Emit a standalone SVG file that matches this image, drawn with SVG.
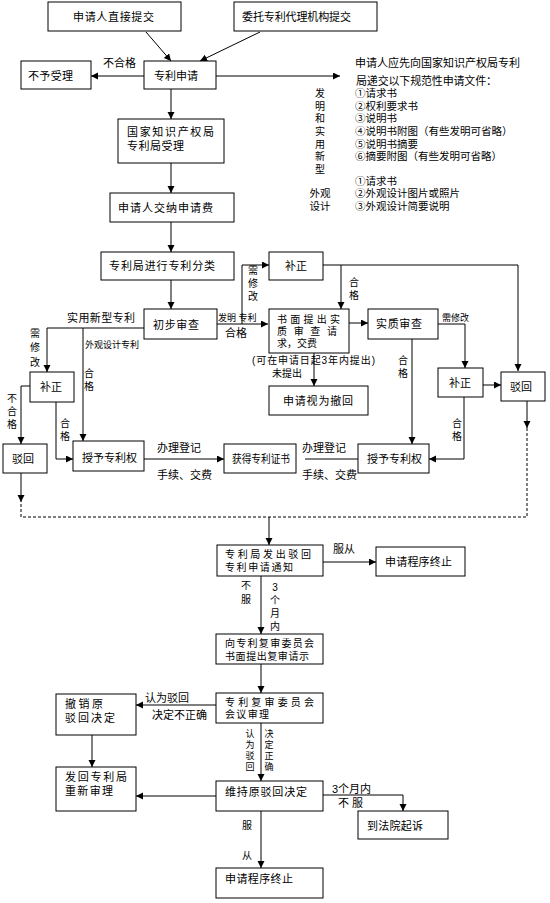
<svg xmlns="http://www.w3.org/2000/svg" width="550" height="903" viewBox="0 0 550 903">
<defs>
<marker id="ah" markerUnits="userSpaceOnUse" markerWidth="8" markerHeight="8" refX="7" refY="3.5" orient="auto"><path d="M0,0 L7,3.5 L0,7 z" fill="#000"/></marker>
<style>
rect{fill:#fff;stroke:#000;stroke-width:1}
text{font-family:"Liberation Sans","Noto Sans CJK SC",sans-serif;font-size:11px;fill:#000}
.s{font-size:9px}
.v{font-size:10px;text-anchor:middle}
.v9{font-size:9px;text-anchor:middle}
.t{font-size:10px}
.l{font-size:10.5px}
.m{text-anchor:middle}
.c line,.c polyline{fill:none;stroke:#000;stroke-width:1}
.a{marker-end:url(#ah)}
.d{stroke-dasharray:3,2}
</style>
</defs>
<rect x="0" y="0" width="550" height="903" style="stroke:none"/>
<g class="c" id="connectors">
<line class="a" x1="146" y1="32" x2="171" y2="61"/>
<line class="a" x1="260" y1="32" x2="200" y2="61"/>
<line class="a" x1="144" y1="76" x2="91" y2="76"/>
<line class="a" x1="216" y1="76" x2="340" y2="76"/>
<line class="a" x1="171" y1="89" x2="171" y2="119"/>
<line class="a" x1="171" y1="163" x2="171" y2="193"/>
<line class="a" x1="171" y1="222" x2="171" y2="252"/>
<line class="a" x1="171" y1="280" x2="171" y2="309"/>
<line class="a" x1="217" y1="324" x2="268" y2="324"/>
<polyline class="a" points="242,324 242,265 269,265"/>
<polyline class="a" points="323,265 518,265 518,371"/>
<line class="a" x1="341" y1="265" x2="341" y2="309"/>
<line class="a" x1="349" y1="323" x2="368" y2="323"/>
<polyline class="a" points="438,324 465,324 465,368"/>
<line class="a" x1="314" y1="353" x2="314" y2="386"/>
<line class="a" x1="412" y1="339" x2="412" y2="444"/>
<line class="a" x1="483" y1="385" x2="501" y2="385"/>
<polyline class="a" points="464,397 464,459 429,459"/>
<line class="a" x1="527" y1="401" x2="527" y2="428"/>
<polyline class="d" points="527,428 527,517 21,517 21,502"/>
<line class="a" x1="21" y1="473" x2="21" y2="502"/>
<polyline class="a" points="144,328 47,328 47,372"/>
<line class="a" x1="83" y1="328" x2="83" y2="441"/>
<polyline class="a" points="30,386 21,386 21,444"/>
<polyline class="a" points="56,402 56,459 73,459"/>
<line class="a" x1="144" y1="459" x2="224" y2="459"/>
<line x1="305" y1="459" x2="358" y2="459"/>
<line class="a" x1="269" y1="517" x2="269" y2="545"/>
<line class="a" x1="323" y1="562" x2="376" y2="562"/>
<line class="a" x1="261" y1="576" x2="261" y2="634"/>
<line class="a" x1="261" y1="664" x2="261" y2="693"/>
<line class="a" x1="216" y1="705" x2="136" y2="705"/>
<line class="a" x1="92" y1="735" x2="92" y2="767"/>
<line class="a" x1="261" y1="723" x2="261" y2="781"/>
<line class="a" x1="216" y1="796" x2="136" y2="796"/>
<polyline class="a" points="323,795 403,795 403,811"/>
<line class="a" x1="261" y1="811" x2="261" y2="868"/>
</g>
<g id="labels">
<text x="103" y="67">不合格</text>
<text class="s" x="218" y="321">发明 专利</text>
<text x="225" y="337">合格</text>
<text class="v"><tspan x="253" y="274">需</tspan><tspan x="253" y="287">修</tspan><tspan x="253" y="300">改</tspan></text>
<text class="v"><tspan x="354" y="286">合</tspan><tspan x="354" y="299">格</tspan></text>
<text class="s" x="442" y="321">需修改</text>
<text class="t" x="252" y="364" textLength="123" lengthAdjust="spacing">(可在申请日起3年内提出)</text>
<text class="t" x="272" y="377">未提出</text>
<text class="v"><tspan x="403" y="364">合</tspan><tspan x="403" y="377">格</tspan></text>
<text class="v"><tspan x="457" y="427">合</tspan><tspan x="457" y="440">格</tspan></text>
<text x="67" y="322" textLength="68" lengthAdjust="spacing">实用新型专利</text>
<text class="v"><tspan x="35" y="337">需</tspan><tspan x="35" y="351">修</tspan><tspan x="35" y="366">改</tspan></text>
<text class="s" x="85" y="348">外观设计专利</text>
<text class="v"><tspan x="89" y="377">合</tspan><tspan x="89" y="390">格</tspan></text>
<text class="v"><tspan x="12" y="402">不</tspan><tspan x="12" y="415">合</tspan><tspan x="12" y="428">格</tspan></text>
<text class="v"><tspan x="65" y="427">合</tspan><tspan x="65" y="440">格</tspan></text>
<text x="157" y="452">办理登记</text>
<text x="157" y="479">手续、交费</text>
<text x="302" y="452">办理登记</text>
<text x="302" y="479">手续、交费</text>
<text x="333" y="553">服从</text>
<text class="v"><tspan x="246" y="589">不</tspan><tspan x="246" y="603">服</tspan></text>
<text class="v"><tspan x="275" y="591">3</tspan><tspan x="275" y="604">个</tspan><tspan x="275" y="617">月</tspan><tspan x="275" y="630">内</tspan></text>
<text x="145" y="702">认为驳回</text>
<text x="152" y="719">决定不正确</text>
<text class="v9"><tspan x="250" y="737">认</tspan><tspan x="250" y="748">为</tspan><tspan x="250" y="759">驳</tspan><tspan x="250" y="770">回</tspan></text>
<text class="v9"><tspan x="269" y="737">决</tspan><tspan x="269" y="748">定</tspan><tspan x="269" y="759">正</tspan><tspan x="269" y="770">确</tspan></text>
<text x="332" y="793">3个月内</text>
<text x="338" y="807">不 服</text>
<text class="v"><tspan x="247" y="829">服</tspan><tspan x="247" y="859">从</tspan></text>
</g>
<g id="docs">
<text x="355" y="67" textLength="165" lengthAdjust="spacing">申请人应先向国家知识产权局专利</text>
<text x="356" y="85" textLength="141" lengthAdjust="spacing">局递交以下规范性申请文件：</text>
<text class="v"><tspan x="320" y="97">发</tspan><tspan x="320" y="110">明</tspan><tspan x="320" y="122">和</tspan><tspan x="320" y="135">实</tspan><tspan x="320" y="148">用</tspan><tspan x="320" y="160">新</tspan><tspan x="320" y="173">型</tspan></text>
<text class="l"><tspan x="355" y="97">①请求书</tspan><tspan x="355" y="110">②权利要求书</tspan><tspan x="355" y="122">③说明书</tspan><tspan x="355" y="135">④说明书附图（有些发明可省略）</tspan><tspan x="355" y="148">⑤说明书摘要</tspan><tspan x="355" y="160">⑥摘要附图（有些发明可省略）</tspan></text>
<text class="l"><tspan x="355" y="185">①请求书</tspan><tspan x="355" y="197">②外观设计图片或照片</tspan><tspan x="355" y="210">③外观设计简要说明</tspan></text>
<text class="l m"><tspan x="320" y="197">外观</tspan><tspan x="320" y="210">设计</tspan></text>
</g>
<g id="n1"><rect x="48" y="2" width="133" height="29"/><text x="73" y="21" textLength="81" lengthAdjust="spacing">申请人直接提交</text></g>
<g id="n2"><rect x="234" y="2" width="143" height="29"/><text x="242" y="21" textLength="109" lengthAdjust="spacing">委托专利代理机构提交</text></g>
<g id="n3"><rect x="144" y="61" width="72" height="28"/><text x="154" y="80">专利申请</text></g>
<g id="n4"><rect x="21" y="61" width="70" height="28"/><text x="28" y="80" textLength="45" lengthAdjust="spacing">不予受理</text></g>
<g id="n5"><rect x="118" y="119" width="106" height="44"/><text><tspan x="127" y="136" textLength="87" lengthAdjust="spacing">国家知识产权局</tspan><tspan x="127" y="150" textLength="57" lengthAdjust="spacing">专利局受理</tspan></text></g>
<g id="n6"><rect x="110" y="193" width="124" height="29"/><text x="118" y="212" textLength="95" lengthAdjust="spacing">申请人交纳申请费</text></g>
<g id="n7"><rect x="101" y="252" width="133" height="28"/><text x="109" y="270" textLength="106" lengthAdjust="spacing">专利局进行专利分类</text></g>
<g id="n8"><rect x="144" y="309" width="73" height="30"/><text x="153" y="329" textLength="46" lengthAdjust="spacing">初步审查</text></g>
<g id="n9"><rect x="269" y="252" width="54" height="28"/><text x="285" y="270">补正</text></g>
<g id="n10"><rect x="269" y="309" width="80" height="44"/><text class="t"><tspan x="277" y="323" textLength="63" lengthAdjust="spacing">书面提出实</tspan><tspan x="277" y="335" textLength="60" lengthAdjust="spacing">质审查请</tspan><tspan x="277" y="347" textLength="40" lengthAdjust="spacing">求，交费</tspan></text></g>
<g id="n11"><rect x="368" y="309" width="70" height="30"/><text x="376" y="328" textLength="46" lengthAdjust="spacing">实质审查</text></g>
<g id="n12"><rect x="269" y="386" width="99" height="29"/><text x="283" y="405" textLength="70" lengthAdjust="spacing">申请视为撤回</text></g>
<g id="n13"><rect x="438" y="368" width="45" height="29"/><text x="449" y="387">补正</text></g>
<g id="n14"><rect x="501" y="372" width="44" height="29"/><text x="510" y="391">驳回</text></g>
<g id="n15"><rect x="358" y="444" width="71" height="29"/><text x="367" y="463">授予专利权</text></g>
<g id="n16"><rect x="224" y="444" width="72" height="29"/><text x="232" y="463" textLength="58" lengthAdjust="spacingAndGlyphs">获得专利证书</text></g>
<g id="n17"><rect x="73" y="441" width="71" height="30"/><text x="82" y="462">授予专利权</text></g>
<g id="n18"><rect x="30" y="372" width="44" height="30"/><text x="40" y="391">补正</text></g>
<g id="n19"><rect x="3" y="444" width="44" height="29"/><text x="12" y="463">驳回</text></g>
<g id="n20"><rect x="217" y="545" width="106" height="31"/><text class="t"><tspan x="225" y="558" textLength="86" lengthAdjust="spacing">专利局发出驳回</tspan><tspan x="225" y="571" textLength="68" lengthAdjust="spacing">专利申请通知</tspan></text></g>
<g id="n21"><rect x="376" y="547" width="89" height="29"/><text x="385" y="566" textLength="67" lengthAdjust="spacing">申请程序终止</text></g>
<g id="n22"><rect x="216" y="634" width="107" height="30"/><text class="t"><tspan x="225" y="647" textLength="89" lengthAdjust="spacing">向专利复审委员会</tspan><tspan x="225" y="660" textLength="84" lengthAdjust="spacing">书面提出复审请示</tspan></text></g>
<g id="n23"><rect x="216" y="693" width="107" height="30"/><text class="t"><tspan x="225" y="706" textLength="89" lengthAdjust="spacing">专利复审委员会</tspan><tspan x="225" y="718" textLength="44" lengthAdjust="spacing">会议审理</tspan></text></g>
<g id="n24"><rect x="56" y="694" width="80" height="41"/><text><tspan x="65" y="708" textLength="38" lengthAdjust="spacing">撤销原</tspan><tspan x="65" y="722" textLength="50" lengthAdjust="spacing">驳回决定</tspan></text></g>
<g id="n25"><rect x="56" y="767" width="80" height="44"/><text><tspan x="65" y="781" textLength="62" lengthAdjust="spacing">发回专利局</tspan><tspan x="65" y="795" textLength="48" lengthAdjust="spacing">重新审理</tspan></text></g>
<g id="n26"><rect x="216" y="781" width="107" height="30"/><text x="225" y="796" textLength="82" lengthAdjust="spacing">维持原驳回决定</text></g>
<g id="n27"><rect x="358" y="811" width="90" height="28"/><text x="367" y="830" textLength="56" lengthAdjust="spacing">到法院起诉</text></g>
<g id="n28"><rect x="216" y="868" width="107" height="30"/><text x="225" y="883" textLength="68" lengthAdjust="spacing">申请程序终止</text></g>
</svg>
